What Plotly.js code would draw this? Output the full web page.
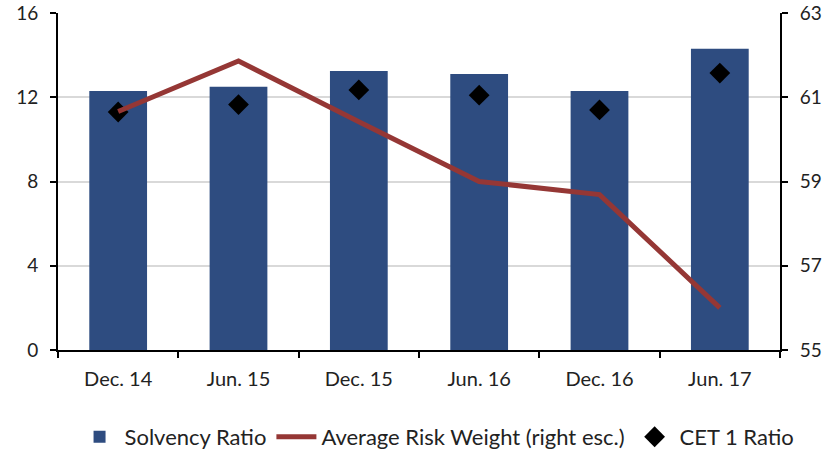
<!DOCTYPE html>
<html><head><meta charset="utf-8">
<script src="https://cdn.plot.ly/plotly-3.0.1.min.js"></script>
<style>html,body{margin:0;padding:0;background:#fff}#c{width:836px;height:453px}</style>
</head><body><div id="c"></div>
<script>
const categories = ["Dec. 14","Jun. 15","Dec. 15","Jun. 16","Dec. 16","Jun. 17"];
const solvencyRatio = [12.3, 12.5, 13.25, 13.1, 12.3, 14.3];
const avgRiskWeight = [60.66, 61.86, 60.42, 59.0, 58.69, 56.0];
const cet1Ratio = [11.3, 11.65, 12.35, 12.1, 11.4, 13.15];
const leftTicks = [0,4,8,12,16];
const rightTicks = [55,57,59,61,63];

const font = {family: "Lato, 'Open Sans', sans-serif", size: 19, color: "#222"};
const legendFont = {family: "Lato, 'Open Sans', sans-serif", size: 22, color: "#222"};
const traces = [
  {type:"bar", x:categories, y:solvencyRatio, name:"Solvency Ratio",
   marker:{color:"#2E4C80"}, yaxis:"y"},
  {type:"scatter", mode:"lines", x:categories, y:avgRiskWeight, name:"Average Risk Weight (right esc.)",
   line:{color:"#953735", width:5}, yaxis:"y2"},
  {type:"scatter", mode:"markers", x:categories, y:cet1Ratio, name:"CET 1 Ratio",
   marker:{symbol:"diamond", color:"#000", size:16}, yaxis:"y"}
];
const layout = {
  width:836, height:453,
  margin:{l:58, r:56, t:13, b:103, autoexpand:false},
  paper_bgcolor:"#fff", plot_bgcolor:"#fff",
  font:font,
  showlegend:true,
  bargap:0.52,
  legend:{orientation:"h", x:0.525, xanchor:"center", y:-0.258, yanchor:"middle",
          font:legendFont, itemwidth:40, tracegroupgap:0, traceorder:"normal"},
  xaxis:{type:"category", showline:true, linecolor:"#000", linewidth:2,
         ticks:"outside", ticklen:6, tickwidth:2, tickcolor:"#000", tickson:"boundaries",
         showgrid:false, tickfont:{family:font.family, size:20, color:"#222"}, ticklabelstandoff:10},
  yaxis:{range:[0,16], tickvals:leftTicks, showline:true, linecolor:"#000", linewidth:2,
         ticks:"outside", ticklen:6, tickwidth:2, tickcolor:"#000",
         showgrid:true, gridcolor:"#d9d9d9", gridwidth:2, zeroline:false, tickfont:font,
         ticklabelstandoff:8, ticklabeloverflow:"allow"},
  yaxis2:{range:[55,63], tickvals:rightTicks, overlaying:"y", side:"right",
          showline:true, linecolor:"#000", linewidth:2,
          ticks:"outside", ticklen:6, tickwidth:2, tickcolor:"#000",
          showgrid:false, zeroline:false, tickfont:font, ticklabelstandoff:8,
          ticklabeloverflow:"allow"}
};
Plotly.newPlot("c", traces, layout, {displayModeBar:false});
</script></body></html>
